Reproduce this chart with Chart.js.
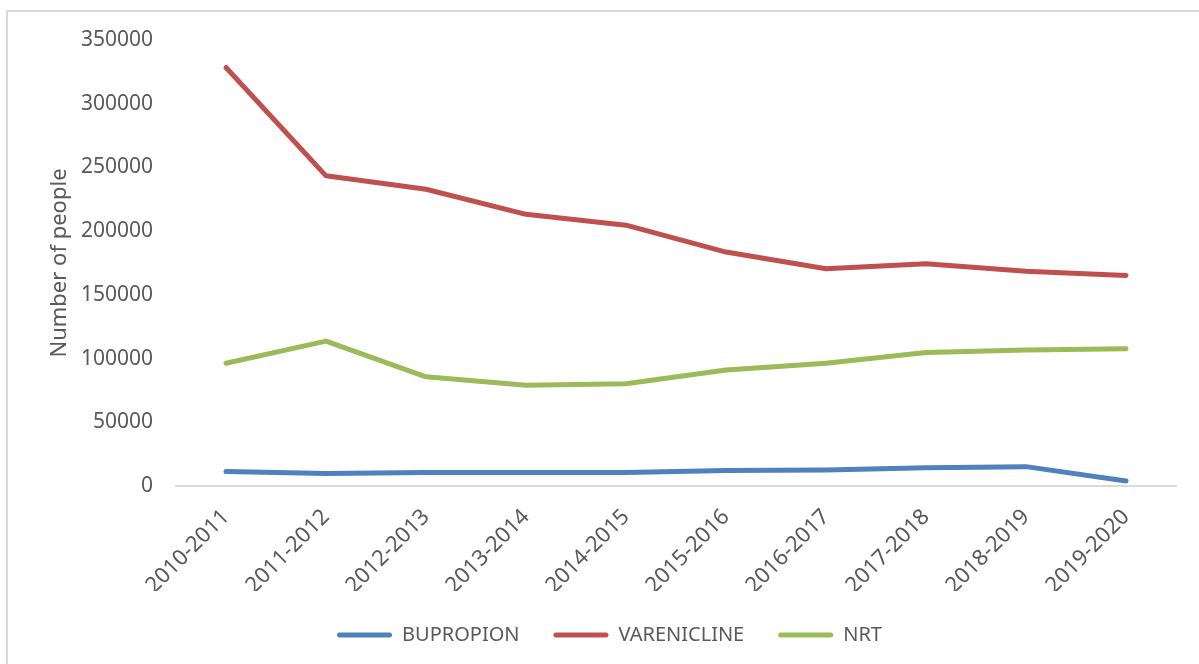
<!DOCTYPE html>
<html>
<head>
<meta charset="utf-8">
<script src="https://cdn.jsdelivr.net/npm/chart.js@4.4.1/dist/chart.umd.min.js"></script>
<style>
  html, body { margin: 0; padding: 0; background: #fff; }
  #wrap { position: relative; width: 1199px; height: 664px; overflow: hidden; }
  #frame { position: absolute; left: 6px; top: 10px; right: 0; bottom: 0;
           border-left: 2px solid #d9d9d9; border-top: 2px solid #d9d9d9; pointer-events: none; }
  canvas { position: absolute; left: 0; top: 0; }
</style>
</head>
<body>
<div id="wrap">
  <canvas id="chart" width="1199" height="664"></canvas>
  <div id="frame"></div>
</div>
<script>
// years on the x axis
const YEARS = ['2010-2011', '2011-2012', '2012-2013', '2013-2014', '2014-2015',
               '2015-2016', '2016-2017', '2017-2018', '2018-2019', '2019-2020'];

// number of people per year
const BUPROPION   = [11300, 9900, 10500, 10500, 10500, 12100, 12600, 14400, 15200, 3900];
const VARENICLINE = [328400, 243400, 232900, 213200, 204700, 183600, 170500, 174500, 168600, 165200];
const NRT         = [96300, 113700, 85700, 79000, 80200, 91000, 96300, 104700, 106800, 107800];

const Y_MIN = 0, Y_MAX = 350000, Y_STEP = 50000;

const TXT = '#595959';
const FONT = 'Noto Sans, sans-serif';

function series(label, data, color) {
    return {
        label, data,
        borderColor: color, backgroundColor: color,
        borderWidth: 5, pointRadius: 0, tension: 0,
        borderCapStyle: 'round', borderJoinStyle: 'round',
    };
}

new Chart(document.getElementById('chart'), {
    type: 'line',
    data: {
        labels: YEARS,
        datasets: [
            series('BUPROPION', BUPROPION, '#4F81BD'),
            series('VARENICLINE', VARENICLINE, '#C0504D'),
            series('NRT', NRT, '#9BBB59'),
        ],
    },
    options: {
        responsive: false,
        animation: false,
        layout: { padding: { left: 43, top: 40, right: 23, bottom: 13 } },
        plugins: {
            tooltip: { enabled: false },
            legend: {
                position: 'bottom',
                maxHeight: 60,
                labels: {
                    boxWidth: 55, boxHeight: 5, padding: 34,
                    useBorderRadius: true, borderRadius: 2.5,
                    color: TXT, font: { family: FONT, size: 20 },
                    generateLabels: (c) => Chart.defaults.plugins.legend.labels.generateLabels(c)
                        .map(l => ({ ...l, lineWidth: 0 })),
                },
            },
        },
        scales: {
            x: {
                offset: true,
                grid: { display: false, drawTicks: false },
                border: { display: true, color: '#d9d9d9', width: 2 },
                ticks: { color: TXT, font: { family: FONT, size: 22 }, minRotation: 45, maxRotation: 45, padding: 18 },
                afterFit: (s) => { s.height = 105; },
            },
            y: {
                min: Y_MIN, max: Y_MAX,
                grid: { display: false, drawTicks: false },
                border: { display: false },
                ticks: {
                    stepSize: Y_STEP, color: TXT, font: { family: FONT, size: 21 }, padding: 23,
                    callback: (v) => String(v),
                },
                title: { display: true, text: 'Number of people', color: TXT, font: { family: FONT, size: 22 } },
                afterFit: (s) => { s.width = 133; },
            },
        },
    },
});
</script>
</body>
</html>
